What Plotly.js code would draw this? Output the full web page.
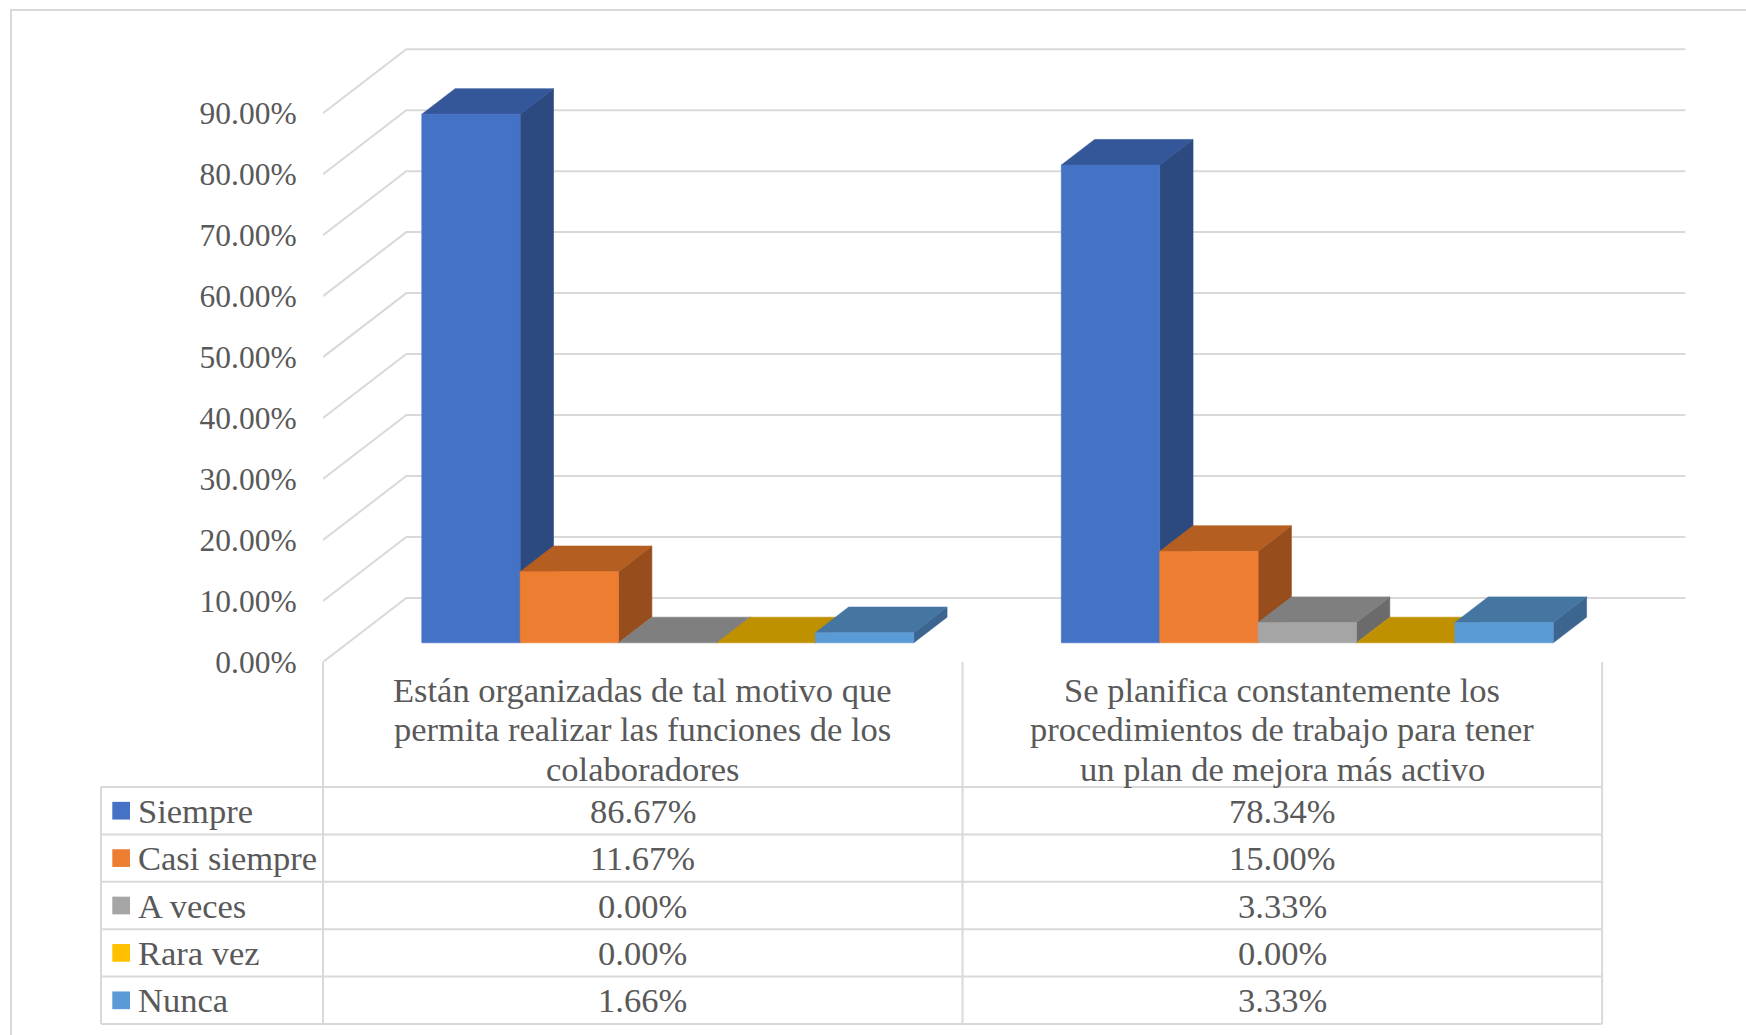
<!DOCTYPE html>
<html><head><meta charset="utf-8">
<script src="https://cdn.plot.ly/plotly-3.0.1.min.js"></script>
<style>html,body{margin:0;padding:0;background:#fff;}#chart{width:1746px;height:1035px;}</style>
</head><body><div id="chart"></div>
<script>
// ---------- DATA ----------
const categories = [
  "Están organizadas de tal motivo que<br>permita realizar las funciones de los<br>colaboradores",
  "Se planifica constantemente los<br>procedimientos de trabajo para tener<br>un plan de mejora más activo"
];
const seriesNames = ["Siempre", "Casi siempre", "A veces", "Rara vez", "Nunca"];
const siempre     = [86.67, 78.34];
const casiSiempre = [11.67, 15.00];
const aVeces      = [0.00, 3.33];
const raraVez     = [0.00, 0.00];
const nunca       = [1.66, 3.33];
const yTicks = [0, 10, 20, 30, 40, 50, 60, 70, 80, 90];

// ---------- STYLE ----------
const seriesValues = [siempre, casiSiempre, aVeces, raraVez, nunca];
const frontColors = ["#4472c4", "#ed7d31", "#a5a5a5", "#ffc000", "#5b9bd5"];
const topColors   = ["#34579a", "#b45e21", "#7f7f7f", "#bf9000", "#4576a2"];
const sideColors  = ["#2c4a80", "#984e1c", "#6b6b6b", "#a47b00", "#3c6690"];
const FONT = "Liberation Serif, Times New Roman, serif";
const TXT = "#595959";
const GRID = "#d9d9d9";

const W = 1746, H = 1035;
const L = 323, PLOT_W = 1375, T = 40, PLOT_H = 622;
const XR = [0, 2.15], YR = [0, 102];
const pxPerX = PLOT_W / (XR[1] - XR[0]);
const pxPerY = PLOT_H / (YR[1] - YR[0]);
const DX = 83.3 / pxPerX;   // full depth, x units
const DY = 64 / pxPerY;     // full depth, value units
const GAP = 1.5;            // gap width in bar widths
const nS = seriesNames.length;
const bw = 1 / (nS + GAP);
const dFront = 0.3, dDepth = 0.4;

const px2x = px => (px - L) / PLOT_W;
const py2y = py => (T + PLOT_H - py) / PLOT_H;
const data2px = x => L + (x - XR[0]) * pxPerX;

const traces = [];
// gridlines: side wall diagonals + back wall horizontals
const gx = [], gy = [];
yTicks.forEach(v => {
  gx.push(0, DX, categories.length + DX, null);
  gy.push(v, v + DY, v + DY, null);
});
traces.push({type: "scatter", mode: "lines", x: gx, y: gy, line: {color: GRID, width: 2},
  hoverinfo: "skip", showlegend: false});

// 3D bars
function poly(arrX, arrY, pts) { pts.forEach(p => { arrX.push(p[0]); arrY.push(p[1]); }); arrX.push(pts[0][0], null); arrY.push(pts[0][1], null); }
seriesValues.forEach((vals, j) => {
  const F = {x: [], y: []}, Tp = {x: [], y: []}, S = {x: [], y: []};
  vals.forEach((v, i) => {
    const x0 = i + (GAP / 2 + j) * bw + dFront * DX, x1 = x0 + bw;
    const yb = dFront * DY, yt = v + dFront * DY;
    const ox = dDepth * DX, oy = dDepth * DY;
    poly(S.x, S.y, [[x1, yb], [x1 + ox, yb + oy], [x1 + ox, yt + oy], [x1, yt]]);
    poly(Tp.x, Tp.y, [[x0, yt], [x1, yt], [x1 + ox, yt + oy], [x0 + ox, yt + oy]]);
    if (v > 0) poly(F.x, F.y, [[x0, yb], [x1, yb], [x1, yt], [x0, yt]]);
  });
  [[S, sideColors[j]], [Tp, topColors[j]], [F, frontColors[j]]].forEach(([f, c]) => {
    traces.push({type: "scatter", mode: "lines", x: f.x, y: f.y, fill: "toself", fillcolor: c,
      line: {color: c, width: 0.6}, hoverinfo: "skip", showlegend: false, name: seriesNames[j]});
  });
});

// ---------- TABLE ----------
const shapes = [], annotations = [];
const tblLeft = 101, tblTop = 787, rowH = 47.4, floorY = 662;
const colX = [0, 1, 2].map(data2px);
const tblBottom = tblTop + rowH * nS;
const hline = (x0, x1, y) => shapes.push({type: "line", xref: "paper", yref: "paper",
  x0: px2x(x0), x1: px2x(x1), y0: py2y(y), y1: py2y(y), line: {color: GRID, width: 2}});
const vline = (x, y0, y1) => shapes.push({type: "line", xref: "paper", yref: "paper",
  x0: px2x(x), x1: px2x(x), y0: py2y(y0), y1: py2y(y1), line: {color: GRID, width: 2}});
for (let r = 0; r <= nS; r++) hline(tblLeft, colX[colX.length - 1], tblTop + r * rowH);
vline(tblLeft, tblTop, tblBottom);
colX.forEach(x => vline(x, floorY, tblBottom));
// outer border
shapes.push({type: "rect", xref: "paper", yref: "paper", x0: px2x(11), x1: px2x(1780), y0: py2y(10), y1: py2y(1060),
  line: {color: GRID, width: 2}, fillcolor: "rgba(0,0,0,0)"});

// category labels
categories.forEach((c, i) => {
  const cx = (colX[i] + colX[i + 1]) / 2;
  c.split("<br>").forEach((line, k) => {
    annotations.push({xref: "paper", yref: "paper", x: px2x(cx), y: py2y(690 + k * 39.3),
      xanchor: "center", yanchor: "middle", showarrow: false, text: line,
      font: {family: FONT, size: 34.5, color: TXT}});
  });
});
// rows
seriesNames.forEach((name, j) => {
  const cy = tblTop + (j + 0.5) * rowH;
  const ks = 17.7;
  shapes.push({type: "rect", xref: "paper", yref: "paper", x0: px2x(112.3), x1: px2x(112.3 + ks),
    y0: py2y(cy - ks / 2), y1: py2y(cy + ks / 2), line: {width: 0}, fillcolor: frontColors[j]});
  annotations.push({xref: "paper", yref: "paper", x: px2x(136), y: py2y(cy), xanchor: "left", yanchor: "middle",
    showarrow: false, text: name, font: {family: FONT, size: 34.5, color: TXT}});
  seriesValues[j].forEach((v, i) => {
    const cx = (colX[i] + colX[i + 1]) / 2;
    annotations.push({xref: "paper", yref: "paper", x: px2x(cx), y: py2y(cy), xanchor: "center", yanchor: "middle",
      showarrow: false, text: v.toFixed(2) + "%", font: {family: FONT, size: 34.5, color: TXT}});
  });
});

const layout = {
  width: W, height: H,
  margin: {l: L, r: W - L - PLOT_W, t: T, b: H - T - PLOT_H, pad: 0},
  paper_bgcolor: "#ffffff", plot_bgcolor: "rgba(0,0,0,0)",
  showlegend: false,
  xaxis: {range: XR, visible: false, fixedrange: true},
  yaxis: {range: YR, fixedrange: true, showgrid: false, zeroline: false, showline: false,
    tickmode: "array", tickvals: yTicks, ticktext: yTicks.map(v => v.toFixed(2) + "%"),
    ticks: "outside", ticklen: 19, tickcolor: "rgba(0,0,0,0)",
    tickfont: {family: FONT, size: 31.5, color: TXT}},
  shapes: shapes, annotations: annotations
};
Plotly.newPlot("chart", traces, layout, {displayModeBar: false, staticPlot: true});
</script>
</body></html>
